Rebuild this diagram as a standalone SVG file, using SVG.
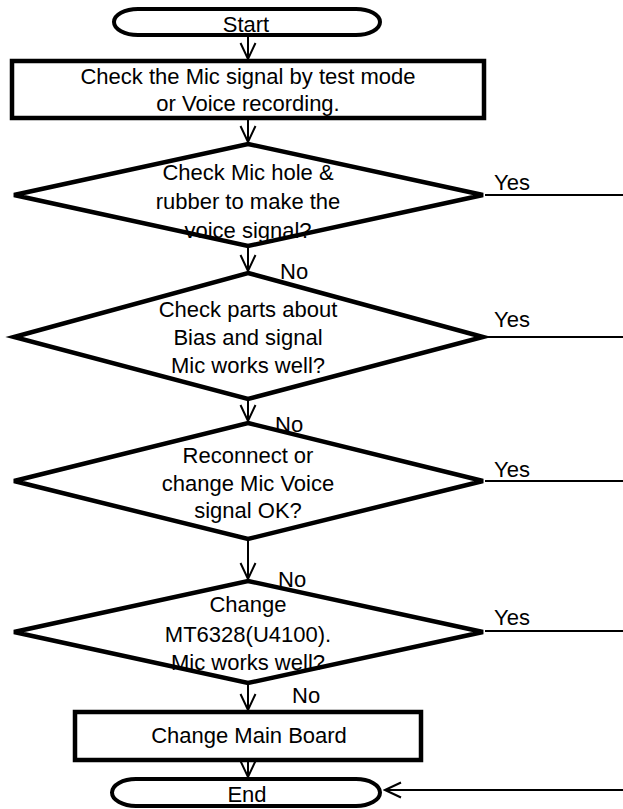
<svg xmlns="http://www.w3.org/2000/svg" width="623" height="809" viewBox="0 0 623 809">
<style>
.shape{fill:#fff;stroke:#000;stroke-width:4.5;stroke-linejoin:miter}
.term{fill:#fff;stroke:#000;stroke-width:4}
.conn{fill:none;stroke:#000;stroke-width:2}
text{font-family:"Liberation Sans",Arial,sans-serif;font-size:22px;fill:#000}
.c{text-anchor:middle}
</style>
<defs>
<marker id="arr" viewBox="-2 -10 20 20" refX="16" refY="0" markerWidth="20" markerHeight="20" markerUnits="userSpaceOnUse" orient="auto">
<path d="M0,-7.5 L16,0 L0,7.5" fill="none" stroke="#000" stroke-width="2"/>
</marker>
</defs>
<g id="connectors">
<line class="conn" x1="248" y1="37" x2="248" y2="59" marker-end="url(#arr)"/>
<line class="conn" x1="248" y1="120" x2="248" y2="142" marker-end="url(#arr)"/>
<line class="conn" x1="248" y1="244" x2="248" y2="271" marker-end="url(#arr)"/>
<line class="conn" x1="248" y1="398" x2="248" y2="421" marker-end="url(#arr)"/>
<line class="conn" x1="248" y1="537" x2="248" y2="579" marker-end="url(#arr)"/>
<line class="conn" x1="248" y1="672" x2="248" y2="710" marker-end="url(#arr)"/>
<line class="conn" x1="248" y1="762" x2="248" y2="777" marker-end="url(#arr)"/>
<line class="conn" x1="485" y1="195" x2="623" y2="195"/>
<line class="conn" x1="485" y1="337" x2="623" y2="337"/>
<line class="conn" x1="485" y1="481" x2="623" y2="481"/>
<line class="conn" x1="485" y1="631" x2="623" y2="631"/>
<line class="conn" x1="623" y1="790" x2="385" y2="790" marker-end="url(#arr)"/>
<text x="494" y="190">Yes</text>
<text x="494" y="327">Yes</text>
<text x="494" y="477">Yes</text>
<text x="494" y="625">Yes</text>
<text x="280" y="279">No</text>
<text x="275" y="432">No</text>
<text x="278" y="587">No</text>
<text x="292" y="703">No</text>
</g>
<g id="start">
<rect class="term" x="114" y="9" width="266" height="26" rx="24" ry="13"/>
<text class="c" x="246" y="32">Start</text>
</g>
<g id="check-signal">
<rect class="shape" x="12" y="61" width="472" height="57"/>
<text class="c" x="248" y="84">Check the Mic signal by test mode</text>
<text class="c" x="248" y="111">or Voice recording.</text>
</g>
<g id="d1">
<polygon class="shape" points="248,144 483,195 248,246 14,195"/>
<text class="c" x="248" y="180">Check Mic hole &amp;</text>
<text class="c" x="248" y="209">rubber to make the</text>
<text class="c" x="248" y="238">voice signal?</text>
</g>
<g id="d2">
<polygon class="shape" points="248,273 483,337 248,399 14,337"/>
<text class="c" x="248" y="317">Check parts about</text>
<text class="c" x="248" y="345">Bias and signal</text>
<text class="c" x="248" y="373">Mic works well?</text>
</g>
<g id="d3">
<polygon class="shape" points="248,423 483,481 248,539 14,481"/>
<text class="c" x="248" y="463">Reconnect or</text>
<text class="c" x="248" y="491">change Mic Voice</text>
<text class="c" x="248" y="518">signal OK?</text>
</g>
<g id="d4">
<polygon class="shape" points="248,581 483,632 248,683 14,632"/>
<text class="c" x="248" y="612">Change</text>
<text class="c" x="248" y="642">MT6328(U4100).</text>
<text class="c" x="248" y="670">Mic works well?</text>
</g>
<g id="main-board">
<rect class="shape" x="75" y="712" width="346" height="48"/>
<text class="c" x="249" y="743">Change Main Board</text>
</g>
<g id="end">
<rect class="term" x="112" y="779" width="268" height="27" rx="24" ry="13.5"/>
<text class="c" x="247" y="802">End</text>
</g>
</svg>
